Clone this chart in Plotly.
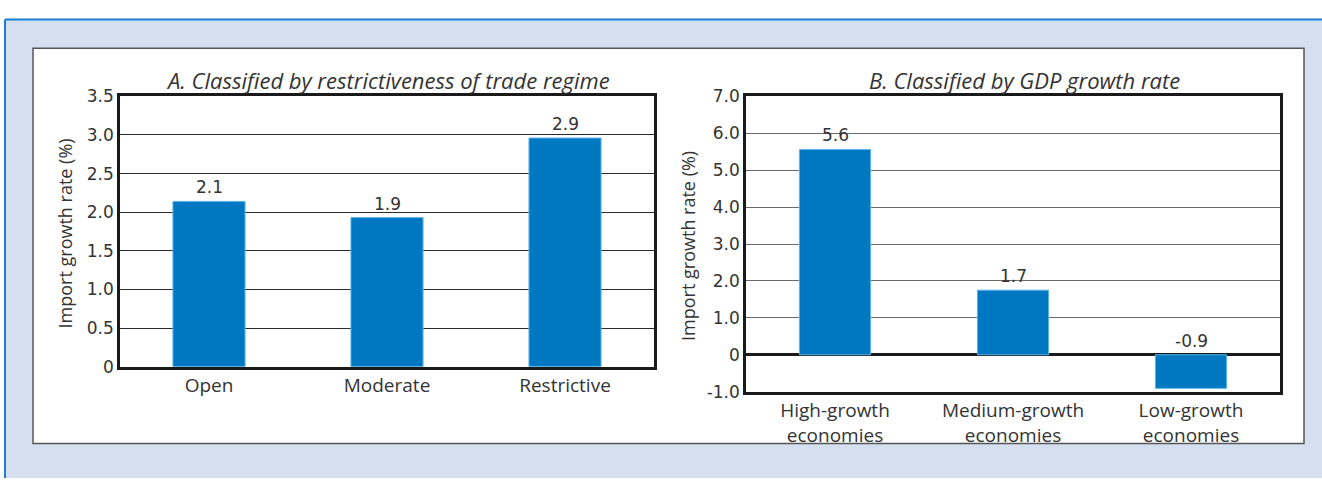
import plotly.graph_objects as go

W, H = 1322, 488

# ---- data ----
cats_a = ["Open", "Moderate", "Restrictive"]
vals_a = [2.14, 1.93, 2.96]
labels_a = ["2.1", "1.9", "2.9"]

cats_b = ["High-growth<br>economies", "Medium-growth<br>economies", "Low-growth<br>economies"]
vals_b = [5.56, 1.75, -0.91]
labels_b = ["5.6", "1.7", "-0.9"]

ticks_a = [0, 0.5, 1.0, 1.5, 2.0, 2.5, 3.0, 3.5]
ticktext_a = ["0", "0.5", "1.0", "1.5", "2.0", "2.5", "3.0", "3.5"]
ticks_b = [-1, 0, 1, 2, 3, 4, 5, 6, 7]
ticktext_b = ["-1.0", "0", "1.0", "2.0", "3.0", "4.0", "5.0", "6.0", "7.0"]

title_a = "A. Classified by restrictiveness of trade regime"
title_b = "B. Classified by GDP growth rate"
ytitle = "Import growth rate (%)"

FONT = "Open Sans"
NUMFONT = "DejaVu Sans"
TXT = "#333333"
BAR = "#0078c1"
BAR_EDGE = "#5db3ea"


def px(x):
    return x / W


def py(y):
    return 1 - y / H


fig = go.Figure()
fig.add_trace(go.Bar(x=cats_a, y=vals_a, width=0.405, xaxis="x", yaxis="y",
                     marker=dict(color=BAR, line=dict(color=BAR_EDGE, width=1)),
                     showlegend=False, hoverinfo="skip"))
fig.add_trace(go.Bar(x=cats_b, y=vals_b, width=0.4, xaxis="x2", yaxis="y2",
                     marker=dict(color=BAR, line=dict(color=BAR_EDGE, width=1)),
                     showlegend=False, hoverinfo="skip"))

numfont = dict(family=NUMFONT, size=17, color=TXT)
annotations = []
for c, v, t in zip(cats_a, vals_a, labels_a):
    annotations.append(dict(x=c, y=max(v, 0), xref="x", yref="y", text=t, showarrow=False,
                            yanchor="bottom", yshift=2, font=numfont))
for c, v, t in zip(cats_b, vals_b, labels_b):
    annotations.append(dict(x=c, y=max(v, 0), xref="x2", yref="y2", text=t, showarrow=False,
                            yanchor="bottom", yshift=2, font=numfont))

annotations += [
    dict(x=px(388), y=py(73), xref="paper", yref="paper", text=title_a, showarrow=False,
         font=dict(family=FONT, size=22, color=TXT, style="italic"), xanchor="center", yanchor="middle"),
    dict(x=px(1024), y=py(73), xref="paper", yref="paper", text=title_b, showarrow=False,
         font=dict(family=FONT, size=22, color=TXT, style="italic"), xanchor="center", yanchor="middle"),
    dict(x=px(65), y=py(233), xref="paper", yref="paper", text=ytitle, showarrow=False, textangle=-90,
         font=dict(family=FONT, size=18, color=TXT), xanchor="center", yanchor="middle"),
    dict(x=px(688), y=py(246), xref="paper", yref="paper", text=ytitle, showarrow=False, textangle=-90,
         font=dict(family=FONT, size=18, color=TXT), xanchor="center", yanchor="middle"),
]

shapes = [
    dict(type="rect", xref="paper", yref="paper", x0=px(5), x1=1, y0=0, y1=py(10),
         fillcolor="#d4e0f0", line=dict(width=0), layer="below"),
    dict(type="line", xref="paper", yref="paper", x0=px(5), x1=1, y0=py(10), y1=py(10),
         line=dict(color="#1a7fd4", width=2), layer="below"),
    dict(type="line", xref="paper", yref="paper", x0=px(5), x1=px(5), y0=0, y1=py(10),
         line=dict(color="#1a7fd4", width=2), layer="below"),
    dict(type="rect", xref="paper", yref="paper", x0=px(33), x1=px(1304), y0=py(452), y1=py(40),
         fillcolor="white", line=dict(color="#555555", width=1.5), layer="below"),
]

catfont = dict(family=FONT, size=19, color=TXT)

fig.update_layout(
    width=W, height=H,
    margin=dict(l=0, r=0, t=0, b=0),
    paper_bgcolor="white",
    plot_bgcolor="rgba(0,0,0,0)",
    annotations=annotations,
    shapes=shapes,
    xaxis=dict(domain=[px(120), px(654)], anchor="y", showline=True, mirror=True,
               linecolor="#1a1a1a", linewidth=2.5, ticks="", tickfont=catfont,
               showgrid=False, fixedrange=True),
    yaxis=dict(domain=[py(372), py(90)], anchor="x", range=[0, 3.5], tickvals=ticks_a,
               ticktext=ticktext_a, showline=True, mirror=True, linecolor="#1a1a1a",
               linewidth=2.5, showgrid=True, gridcolor="#2a2a2a", gridwidth=1,
               zeroline=False, ticks="", tickfont=numfont, fixedrange=True),
    xaxis2=dict(domain=[px(746), px(1280)], anchor="y2", showline=True, mirror=True,
                linecolor="#1a1a1a", linewidth=2.5, ticks="", tickfont=catfont,
                showgrid=False, fixedrange=True),
    yaxis2=dict(domain=[py(398), py(90)], anchor="x2", range=[-1, 7], tickvals=ticks_b,
                ticktext=ticktext_b, showline=True, mirror=True, linecolor="#1a1a1a",
                linewidth=2.5, showgrid=True, gridcolor="#6a6a6a", gridwidth=1,
                zeroline=True, zerolinecolor="#1a1a1a", zerolinewidth=2.5,
                ticks="", tickfont=numfont, fixedrange=True),
)

post = ("document.documentElement.style.margin='0';"
        "document.documentElement.style.overflow='hidden';"
        "document.body.style.margin='0';"
        "document.body.style.overflow='hidden';"
        "var d=document.getElementById('{plot_id}');"
        "d.style.position='fixed';d.style.top='0px';d.style.left='0px';")

fig.write_html("out.html", config={"displayModeBar": False}, post_script=post)
